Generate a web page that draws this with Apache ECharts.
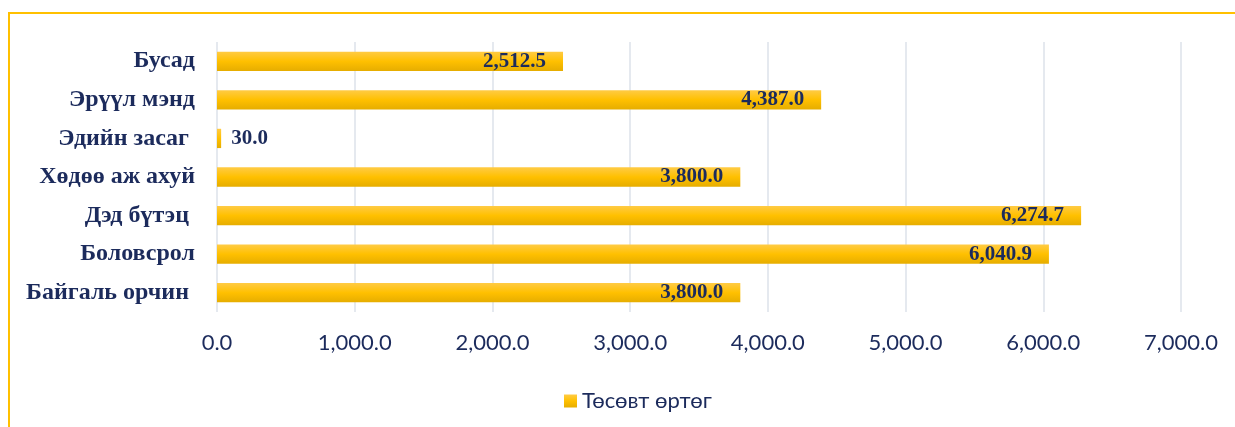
<!DOCTYPE html>
<html>
<head>
<meta charset="utf-8">
<script src="https://cdn.jsdelivr.net/npm/echarts@6/dist/echarts.min.js"></script>
<style>
  html, body { margin: 0; padding: 0; background: #fff; }
  #chart { width: 1235px; height: 427px; }
</style>
</head>
<body>
<div id="chart"></div>
<script>
// categories, top to bottom
var categories = ['Бусад', 'Эрүүл мэнд', 'Эдийн засаг ', 'Хөдөө аж ахуй', 'Дэд бүтэц ', 'Боловсрол', 'Байгаль орчин '];
var values = [2512.5, 4387.0, 30.0, 3800.0, 6274.7, 6040.9, 3800.0];
var seriesName = 'Төсөвт өртөг';
var xTicks = { min: 0, max: 7000, interval: 1000 };

var navy = '#1c2b5c';
var barFill = new echarts.graphic.LinearGradient(0, 0, 0, 1, [
  { offset: 0, color: '#ffcb45' },
  { offset: 0.5, color: '#ffc000' },
  { offset: 1, color: '#e6ad00' }
]);

function fmt(v) {
  return v.toLocaleString('en-US', { minimumFractionDigits: 1, maximumFractionDigits: 1 });
}

var barData = values.map(function (v) {
  // short bars get the label outside
  if (v < 500) {
    return { value: v, label: { position: 'right', distance: 10 } };
  }
  return v;
});

var myChart = echarts.init(document.getElementById('chart'));

var option = {
  animation: false,
  grid: { left: 217, right: 54, top: 42, height: 270 },
  legend: {
    data: [seriesName],
    left: 559,
    top: 385,
    itemWidth: 13,
    itemHeight: 13,
    itemGap: 6,
    icon: 'rect',
    textStyle: { fontFamily: 'Lato', fontSize: 22, color: navy }
  },
  xAxis: {
    type: 'value',
    min: xTicks.min,
    max: xTicks.max,
    interval: xTicks.interval,
    axisLine: { show: false },
    axisTick: { show: false },
    axisLabel: {
      margin: 20,
      fontFamily: 'Lato',
      fontSize: 22,
      color: navy,
      formatter: fmt
    },
    splitLine: { lineStyle: { color: '#dde2ea', width: 1.5 } }
  },
  yAxis: {
    type: 'category',
    inverse: true,
    data: categories,
    axisLine: { show: false },
    axisTick: { show: false },
    axisLabel: {
      margin: 22,
      fontFamily: 'Liberation Serif',
      fontWeight: 'bold',
      fontSize: 24,
      color: navy
    }
  },
  series: [
    {
      name: seriesName,
      type: 'bar',
      data: barData,
      barWidth: '50%',
      itemStyle: { color: barFill },
      label: {
        show: true,
        position: 'insideRight',
        distance: 17,
        fontFamily: 'Liberation Serif',
        fontWeight: 'bold',
        fontSize: 21,
        color: navy,
        formatter: function (p) { return fmt(p.value); }
      }
    }
  ],
  graphic: [
    { type: 'line', shape: { x1: 8, y1: 13, x2: 1235, y2: 13 }, style: { stroke: '#ffc000', lineWidth: 2 } },
    { type: 'line', shape: { x1: 9, y1: 12, x2: 9, y2: 427 }, style: { stroke: '#ffc000', lineWidth: 2 } }
  ]
};

myChart.setOption(option);
</script>
</body>
</html>
